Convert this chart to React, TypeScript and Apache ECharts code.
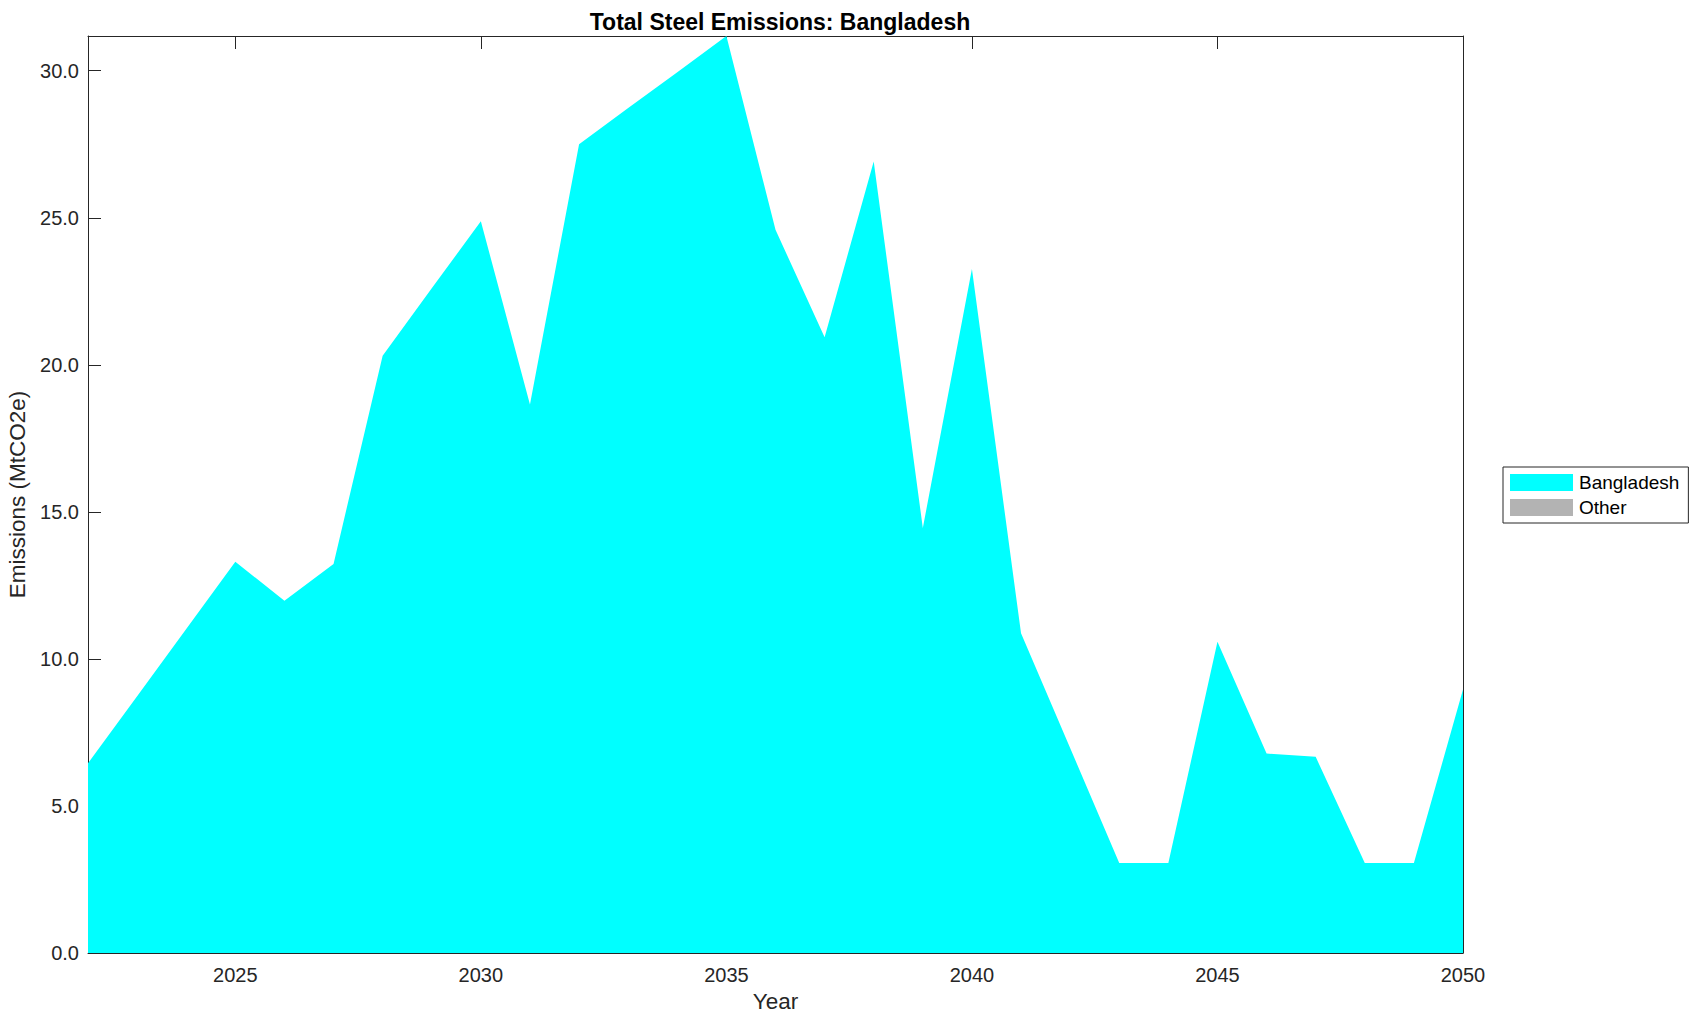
import React, { useEffect, useRef } from "react";
import * as echarts from "echarts";

const years = [2022, 2023, 2024, 2025, 2026, 2027, 2028, 2029, 2030, 2031, 2032, 2033, 2034, 2035, 2036, 2037, 2038, 2039, 2040, 2041, 2042, 2043, 2044, 2045, 2046, 2047, 2048, 2049, 2050];
const bangladeshValues = [6.45, 8.73, 11.02, 13.3, 11.98, 13.23, 20.31, 22.6, 24.88, 18.65, 27.5, 28.73, 29.95, 31.18, 24.59, 20.94, 26.91, 14.45, 23.26, 10.87, 6.97, 3.06, 3.06, 10.58, 6.78, 6.67, 3.06, 3.06, 8.96];
const otherValues: number[] = [];
const xTicks = [2025, 2030, 2035, 2040, 2045, 2050];
const seriesNames = ["Bangladesh", "Other"];

const FONT = "'Liberation Sans', Arial, Helvetica, sans-serif";
const AXIS = "#262626";

export default function App() {
  const ref = useRef<HTMLDivElement>(null);
  useEffect(() => {
    if (!ref.current) return;
    const chart = echarts.init(ref.current, null, { renderer: "svg" });
    const xBase = {
      type: "value" as const,
      min: years[0],
      max: years[years.length - 1],
      splitLine: { show: false },
      axisLine: { show: true, onZero: false, lineStyle: { color: AXIS, width: 1 } },
      axisTick: { show: true, inside: true, length: 13, customValues: xTicks, lineStyle: { color: AXIS } },
    };
    const yBase = {
      type: "value" as const,
      min: 0,
      max: (v: { max: number }) => v.max,
      interval: 5,
      splitLine: { show: false },
      axisLine: { show: true, onZero: false, lineStyle: { color: AXIS, width: 1 } },
      axisTick: { show: true, inside: true, length: 13, lineStyle: { color: AXIS } },
    };
    chart.setOption({
      animation: false,
      backgroundColor: "#ffffff",
      textStyle: { fontFamily: FONT },
      title: {
        text: "Total Steel Emissions: Bangladesh",
        left: 775,
        textAlign: "center",
        top: 5,
        textStyle: { fontFamily: FONT, fontSize: 23, fontWeight: "bold", color: "#000" },
      },
      grid: { left: 88, right: 237, top: 36, bottom: 68, containLabel: false, outerBoundsMode: "none" },
      legend: {
        orient: "vertical",
        left: 1503,
        top: 467,
        data: seriesNames.map((n) => ({ name: n, icon: "rect" })),
        itemWidth: 63,
        itemHeight: 17,
        itemGap: 6,
        padding: [6, 9, 6, 7],
        borderColor: AXIS,
        borderWidth: 1,
        backgroundColor: "#fff",
        textStyle: { fontFamily: FONT, fontSize: 19, color: "#000", padding: [0, 0, 0, 1] },
        itemStyle: { borderWidth: 0 },
        selectedMode: false,
      },
      xAxis: [
        {
          ...xBase,
          position: "bottom",
          name: "Year",
          nameLocation: "middle",
          nameGap: 37,
          nameTextStyle: { fontFamily: FONT, fontSize: 22.5, color: AXIS },
          axisLabel: {
            show: true,
            customValues: xTicks,
            margin: 12,
            fontFamily: FONT,
            fontSize: 20,
            color: AXIS,
            formatter: (v: number) => String(v),
          },
        },
        {
          ...xBase,
          position: "top",
          axisLabel: { show: false },
        },
      ],
      yAxis: [
        {
          ...yBase,
          position: "left",
          name: "Emissions (MtCO2e)",
          nameLocation: "middle",
          nameGap: 57,
          nameRotate: 90,
          nameTextStyle: { fontFamily: FONT, fontSize: 22.5, color: AXIS },
          axisLabel: {
            show: true,
            margin: 9,
            showMaxLabel: false,
            fontFamily: FONT,
            fontSize: 20,
            color: AXIS,
            formatter: (v: number) => v.toFixed(1),
          },
        },
        {
          ...yBase,
          position: "right",
          axisLabel: { show: false },
        },
      ],
      series: [
        {
          name: seriesNames[0],
          type: "line",
          stack: "total",
          color: "#00ffff",
          showSymbol: false,
          symbol: "none",
          lineStyle: { width: 0 },
          areaStyle: { color: "#00ffff", opacity: 1 },
          data: years.map((y, i) => [y, bangladeshValues[i]]),
        },
        {
          name: seriesNames[1],
          type: "line",
          stack: "total",
          color: "#b3b3b3",
          showSymbol: false,
          symbol: "none",
          lineStyle: { width: 0 },
          areaStyle: { color: "#b3b3b3", opacity: 1 },
          data: otherValues.map((v, i) => [years[i], v]),
        },
      ],
    });
    return () => chart.dispose();
  }, []);
  return (
    <div
      ref={ref}
      style={{ position: "fixed", left: 0, top: 0, width: 1700, height: 1021, background: "#fff" }}
    />
  );
}
